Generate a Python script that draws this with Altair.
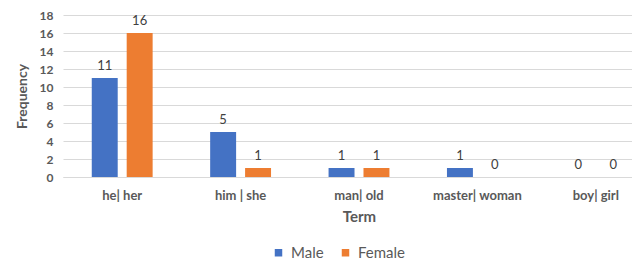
import altair as alt
import pandas as pd

terms = ["he| her", "him | she", "man| old", "master| woman", "boy| girl"]
male = [11, 5, 1, 1, 0]
female = [16, 1, 1, 0, 0]
genders = ["Male", "Female"]
colors = ["#4472C4", "#ED7D31"]
y_ticks = [0, 2, 4, 6, 8, 10, 12, 14, 16, 18]

rows = []
for t, m, f in zip(terms, male, female):
    rows.append({"Term": t, "Gender": "Male", "Frequency": m})
    rows.append({"Term": t, "Gender": "Female", "Frequency": f})
df = pd.DataFrame(rows)

FONT = "Lato"

x = alt.X("Term:N", sort=terms, title="Term",
          scale=alt.Scale(range=[0, 592], paddingInner=0.41, paddingOuter=0.205),
          axis=alt.Axis(labelAngle=0, ticks=False, domainColor="#D9D9D9",
                        labelPadding=12, labelFontSize=13, labelFontWeight="bold",
                        labelColor="#595959", titleFontSize=15, titleFontWeight="bold",
                        titleColor="#595959", titlePadding=7, grid=False))
xo = alt.XOffset("Gender:N", sort=genders,
                 scale=alt.Scale(paddingInner=0.257, paddingOuter=0.1285))
y = alt.Y("Frequency:Q", title="Frequency",
          scale=alt.Scale(domain=[0, 18], nice=False),
          axis=alt.Axis(values=y_ticks, domain=False, ticks=False, gridColor="#D9D9D9",
                        labelFontSize=12, labelFontWeight="bold", labelColor="#595959",
                        labelPadding=10, titleFontSize=14, titleFontWeight="bold",
                        titleColor="#595959", titlePadding=10))
color = alt.Color("Gender:N", sort=genders, title=None,
                  scale=alt.Scale(domain=genders, range=colors),
                  legend=alt.Legend(orient="none", direction="horizontal",
                                    legendX=208, legendY=230, symbolType="square",
                                    symbolSize=56, symbolStrokeWidth=0,
                                    labelFontSize=15, labelColor="#595959",
                                    labelOffset=5, columnPadding=14))

bars = alt.Chart(df).mark_bar().encode(x=x, xOffset=xo, y=y, color=color)
labels = alt.Chart(df).mark_text(fontSize=13, color="#404040", baseline="middle",
                                 dy=-12, font=FONT).encode(
    x=x, xOffset=xo, y=y, text="Frequency:Q")

chart = (bars + labels).properties(
    width=569, height=162,
    autosize=alt.AutoSizeParams(type="none"),
    padding={"left": 55, "top": 7, "right": 0, "bottom": 88},
).configure(font=FONT).configure_view(stroke=None)

chart.save("out.html", embed_options={"renderer": "svg", "actions": False})
